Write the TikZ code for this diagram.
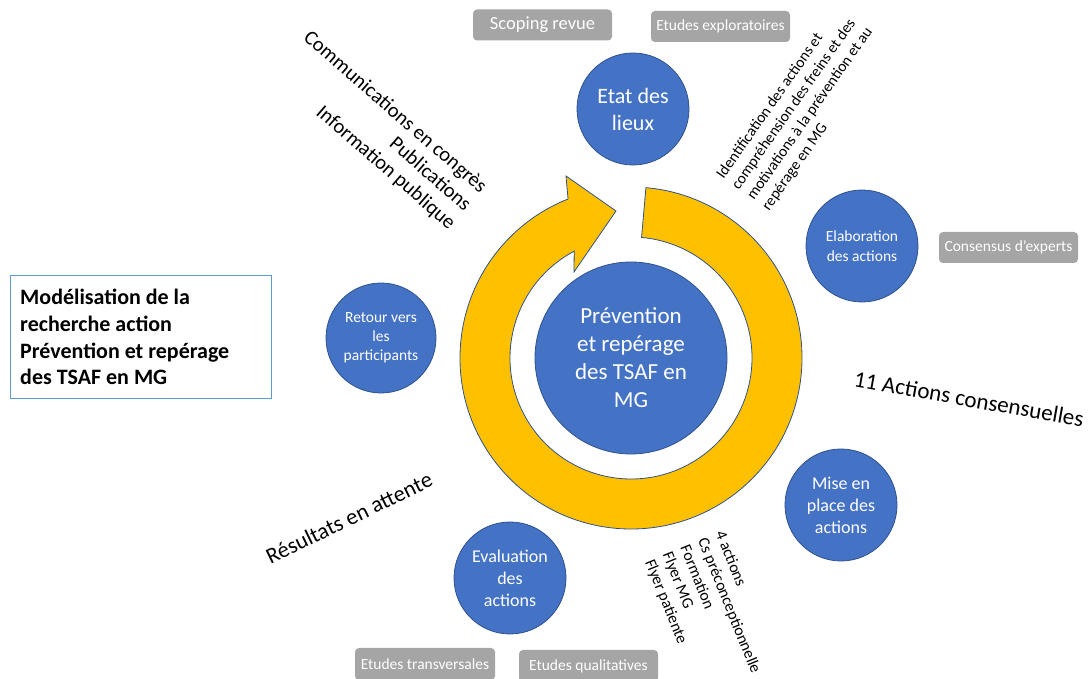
\documentclass[tikz,border=0pt]{standalone}
\usepackage{fontspec}
\setmainfont{Carlito}
\usetikzlibrary{calc}
\definecolor{cblue}{HTML}{4472C4}
\definecolor{cedge}{HTML}{2F528F}
\definecolor{cgold}{HTML}{FFC000}
\definecolor{cgrey}{HTML}{A5A5A5}
\definecolor{ctitle}{HTML}{5B9BD5}
\begin{document}
\begin{tikzpicture}[x=1pt,y=1pt,
  bub/.style={circle, fill=cblue, draw=cedge, line width=0.8pt, text=white, align=center, inner sep=0pt},
  tag/.style={rectangle, rounded corners=4pt, fill=cgrey, text=white, minimum width=139pt, minimum height=31pt, inner sep=0pt, font=\fontsize{15.5}{18}\selectfont},
  note/.style={text=black, inner sep=0pt}
]
\useasboundingbox (0,0) rectangle (1090,679);
\coordinate (C) at (631,321);
% circular arrow
\path[fill=cgold, draw=cedge, line width=0.8pt]
  ($(C)+(85:171)$) arc[start angle=85, end angle=-248.4, radius=171]
  -- (566,503) -- (616,468) -- (574,407)
  -- ($(C)+(118:121)$) arc[start angle=-242, end angle=85, radius=121] -- cycle;
% circles
\node[bub, minimum size=192pt, font=\fontsize{23}{28}\selectfont] (prev) at (C) {Prévention\\et repérage\\des TSAF en\\MG};
\node[bub, minimum size=112pt, font=\fontsize{22}{27}\selectfont] (etat) at (633,570) {Etat des\\lieux};
\node[bub, minimum size=112pt, font=\fontsize{15.5}{19.5}\selectfont] (elab) at (862,433) {Elaboration\\des actions};
\node[bub, minimum size=112pt, font=\fontsize{18}{22}\selectfont] (mise) at (841,174) {Mise en\\place des\\actions};
\node[bub, minimum size=112pt, font=\fontsize{18}{22}\selectfont] (eval) at (510,101) {Evaluation\\des\\actions};
\node[bub, minimum size=110pt, font=\fontsize{15.5}{19}\selectfont] (ret) at (381,341) {Retour vers\\les\\participants};
% grey tags
\node[tag, font=\fontsize{18.5}{22}\selectfont] (scop) at (542.5,654) {Scoping revue};
\node[tag] (expl) at (720.5,652.5) {Etudes exploratoires};
\node[tag] (cons) at (1008.5,431.5) {Consensus d’experts};
\node[tag, minimum width=140pt, minimum height=32pt] (trans) at (425,15) {Etudes transversales};
\node[tag, minimum height=32pt] (qual) at (588.5,13) {Etudes qualitatives};
% title
\node[draw=ctitle, line width=1pt, fill=white, anchor=north west, minimum width=261pt, minimum height=123pt, inner sep=0pt] (titlebox) at (10,404) {};
\node[anchor=west, align=left, inner sep=0pt, font=\bfseries\fontsize{22}{26.8}\selectfont] (title) at ($(titlebox.west)+(10,0)$) {Modélisation de la\\recherche action\\Prévention et repérage\\des TSAF en MG};
% rotated notes
\node[note, rotate=-41, anchor=east, align=right, font=\fontsize{20.5}{24}\selectfont] (comm) at (468,471) {Communications en congrès\\Publications\\Information publique};
\node[note, rotate=55, anchor=west, align=left, font=\fontsize{15.5}{18.5}\selectfont] (ident) at (743,485.5) {Identification des actions et\\compréhension des freins et des\\motivations à la prévention et au\\repérage en MG};
\node[note, rotate=-68, anchor=west, align=left, font=\fontsize{16}{19}\selectfont] (acts) at (684,133) {4 actions\\Cs préconceptionnelle\\Formation\\Flyer MG\\Flyer patiente};
\node[note, rotate=-10, font=\fontsize{23}{28}\selectfont] (onze) at (969,280) {11 Actions consensuelles};
\node[note, rotate=26, font=\fontsize{22.5}{27}\selectfont] (res) at (349,161) {Résultats en attente};
\end{tikzpicture}
\end{document}
